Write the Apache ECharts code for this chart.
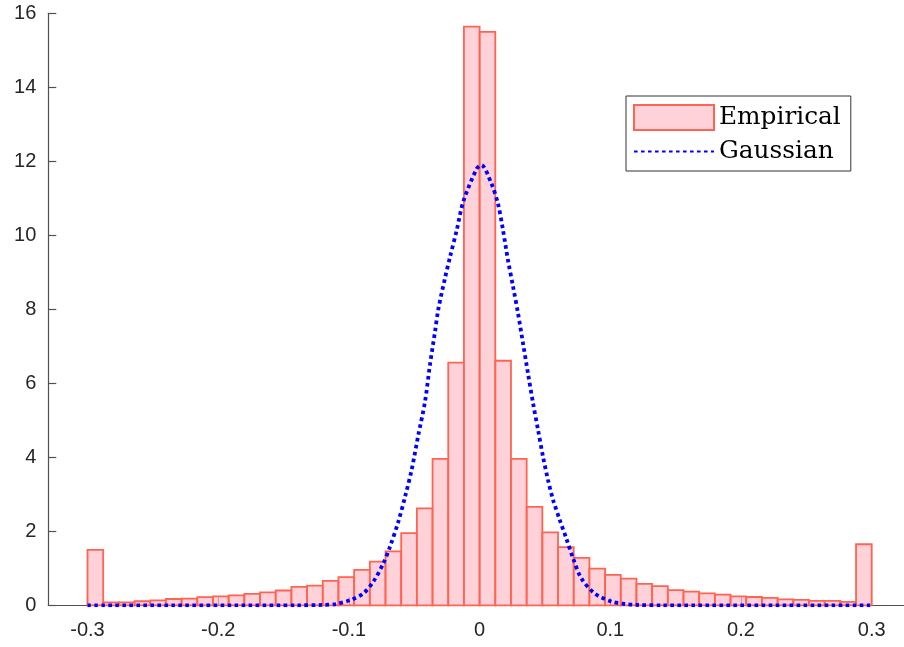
<!DOCTYPE html>
<html>
<head>
<meta charset="utf-8">
<script src="https://cdn.jsdelivr.net/npm/echarts@6/dist/echarts.min.js"></script>
<style>html,body{margin:0;padding:0;background:#fff;}#c{width:904px;height:647px;}</style>
</head>
<body>
<div id="c"></div>
<script>
// Histogram: 50 bins of width 0.012 from -0.3 to 0.3
const binStart = -0.3;
const binWidth = 0.012;
const empiricalValues = [
  1.50, 0.08, 0.08, 0.11, 0.135, 0.17, 0.18, 0.22, 0.24, 0.27,
  0.31, 0.35, 0.40, 0.50, 0.53, 0.66, 0.76, 0.96, 1.18, 1.46,
  1.95, 2.62, 3.96, 6.56, 15.64,
  15.50, 6.61, 3.96, 2.66, 1.97, 1.57, 1.28, 0.99, 0.82, 0.72,
  0.58, 0.52, 0.41, 0.37, 0.32, 0.29, 0.24, 0.225, 0.20, 0.16,
  0.145, 0.12, 0.12, 0.09, 1.65
];
// Gaussian curve points
const gaussX = [-0.3, -0.14, -0.12, -0.11, -0.099, -0.089, -0.0813, -0.0737, -0.0686, -0.0622,
  -0.057, -0.052, -0.0469, -0.0418, -0.038, -0.0341, -0.0316, -0.0265, -0.0226, -0.0175,
  -0.0125, -0.0022, 0.0013, 0.009, 0.014, 0.0179, 0.0217, 0.0256, 0.0294, 0.0332,
  0.037, 0.0409, 0.0447, 0.0485, 0.0523, 0.0562, 0.0613, 0.0663, 0.0715, 0.0778,
  0.088, 0.1008, 0.111, 0.12, 0.14, 0.3];
const gaussY = [0, 0, 0.01, 0.035, 0.14, 0.32, 0.64, 1.13, 1.58, 2.26,
  2.94, 3.66, 4.6, 5.5, 6.5, 7.4, 8.0, 8.84, 9.42, 10.14,
  10.91, 11.8, 11.9, 11.4, 10.86, 10.14, 9.33, 8.61, 7.89, 7.08,
  6.27, 5.46, 4.74, 4.02, 3.39, 2.85, 2.31, 1.81, 1.27, 0.73,
  0.32, 0.1, 0.035, 0.01, 0, 0];
const xTickLabels = [-0.3, -0.2, -0.1, 0, 0.1, 0.2, 0.3];
const yMax = 16, yStep = 2;

const barFill = 'rgba(255,182,193,0.62)';
const barEdge = '#FF6452';

const histData = empiricalValues.map((v, i) => {
  const l = +(binStart + i * binWidth).toFixed(4);
  return [l, +(l + binWidth).toFixed(4), v];
});
const gaussData = gaussX.map((x, i) => [x, gaussY[i]]);

const chart = echarts.init(document.getElementById('c'));
chart.setOption({
  animation: false,
  backgroundColor: '#fff',
  grid: { left: 48.3, right: 0, top: 13.3, bottom: 41.7, containLabel: false },
  xAxis: {
    type: 'value', min: -0.33, max: 0.3247,
    splitLine: { show: false },
    axisLine: { onZero: false, lineStyle: { color: '#505050', width: 1.2 } },
    axisTick: { inside: true, length: 8, customValues: xTickLabels, lineStyle: { color: '#777', width: 1.2 } },
    axisLabel: { customValues: xTickLabels, fontFamily: 'Liberation Sans', fontSize: 20, color: '#262626', margin: 15,
      formatter: v => String(v) }
  },
  yAxis: {
    type: 'value', min: 0, max: yMax, interval: yStep,
    splitLine: { show: false },
    axisLine: { show: true, onZero: false, lineStyle: { color: '#505050', width: 1.2 } },
    axisTick: { show: true, inside: true, length: 8, lineStyle: { color: '#505050', width: 1.2 } },
    axisLabel: { fontFamily: 'Liberation Sans', fontSize: 20, color: '#262626', margin: 12 }
  },
  legend: {
    orient: 'vertical', left: 626, top: 96,
    padding: [8, 10, 7, 7],
    borderColor: '#333', borderWidth: 1, backgroundColor: '#fff',
    itemWidth: 80, itemHeight: 25, itemGap: 8,
    textStyle: { fontFamily: 'DejaVu Serif', fontSize: 24.8, color: '#000' },
    data: [
      { name: 'Empirical', icon: 'rect', itemStyle: { color: barFill, borderColor: barEdge, borderWidth: 2 } },
      { name: 'Gaussian', itemStyle: { color: 'rgba(0,0,0,0)', borderWidth: 0, opacity: 0 } }
    ]
  },
  series: [
    {
      name: 'Empirical', type: 'custom',
      itemStyle: { color: barFill, borderColor: barEdge, borderWidth: 2 },
      encode: { x: [0, 1], y: 2 },
      data: histData,
      renderItem: function (params, api) {
        const p0 = api.coord([api.value(0), 0]);
        const p1 = api.coord([api.value(1), api.value(2)]);
        return {
          type: 'rect',
          shape: { x: p0[0], y: p1[1], width: p1[0] - p0[0], height: p0[1] - p1[1] },
          style: { fill: barFill, stroke: barEdge, lineWidth: 1.8 }
        };
      },
      z: 2
    },
    {
      name: 'Gaussian', type: 'line', data: gaussData,
      smooth: 0.3, symbol: 'none',
      lineStyle: { color: '#0000FF', width: 3.8, type: [3.6, 3.4], cap: 'butt' },
      itemStyle: { color: '#0000FF' },
      z: 3
    }
  ]
});
</script>
</body>
</html>
